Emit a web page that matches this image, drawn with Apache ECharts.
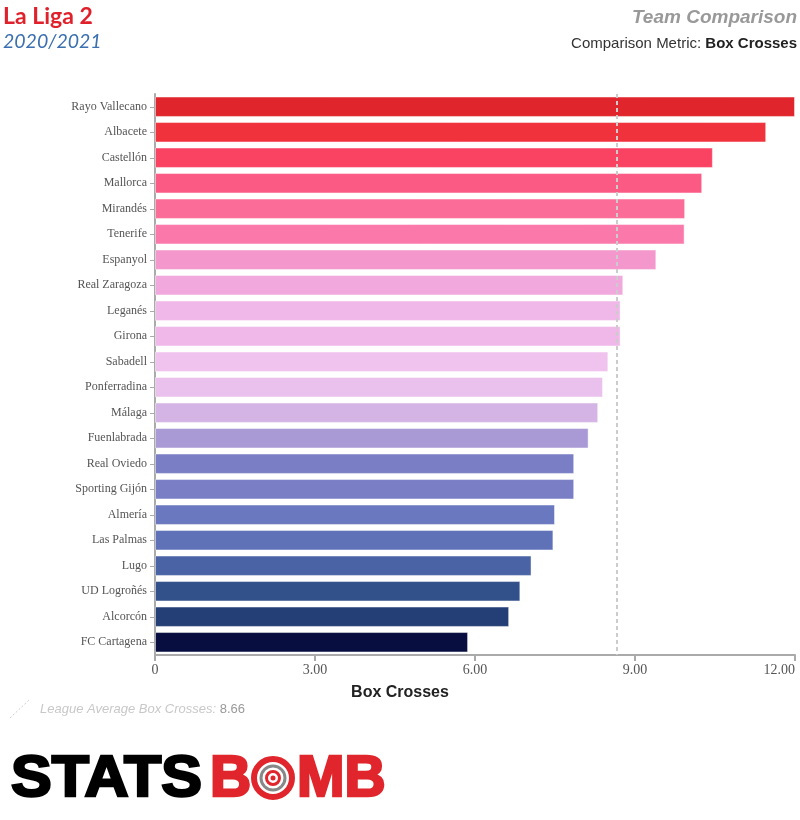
<!DOCTYPE html>
<html><head><meta charset="utf-8">
<script src="https://cdn.jsdelivr.net/npm/echarts@6/dist/echarts.min.js"></script>
<style>html,body{margin:0;padding:0;background:#fff}#c{width:800px;height:820px}</style>
</head><body><div id="c"></div>
<script>
const teams = ["Rayo Vallecano","Albacete","Castellón","Mallorca","Mirandés","Tenerife","Espanyol","Real Zaragoza","Leganés","Girona","Sabadell","Ponferradina","Málaga","Fuenlabrada","Real Oviedo","Sporting Gijón","Almería","Las Palmas","Lugo","UD Logroñés","Alcorcón","FC Cartagena"];
const values = [12.0,11.46,10.46,10.26,9.94,9.93,9.40,8.78,8.73,8.73,8.50,8.40,8.31,8.13,7.86,7.86,7.50,7.47,7.06,6.85,6.64,5.87];
const barColors = ["#e0262c","#f0323c","#fa4262","#fb5a84","#fc6c98","#fb78aa","#f497cc","#f1a8dd","#efb8e8","#efb8e8","#f0c2ee","#eac0ed","#d4b4e4","#a99ad5","#7a7ec4","#7a7ec4","#6a78c0","#5f72b8","#4a63a5","#32518a","#243f75","#080f40"];
const xTicks = [0,3,6,9,12];
const leagueAvg = 8.66;

const chart = echarts.init(document.getElementById('c'), null, {renderer:'canvas'});
const logoFont = 'Liberation Sans, Arial';
chart.setOption({
  animation:false,
  grid:{left:155,right:5,top:94,bottom:165,containLabel:false},
  xAxis:{type:'value',min:0,max:12,interval:3,
    axisLine:{show:true,lineStyle:{color:'#aaa',width:2}},
    axisTick:{show:true,length:6,lineStyle:{color:'#aaa',width:2}},
    splitLine:{show:false},
    axisLabel:{fontFamily:'Liberation Serif, Times New Roman',fontSize:14,color:'#555',margin:8,
      formatter:v=>v===0?'0':v.toFixed(2),alignMaxLabel:'right'}
  },
  yAxis:{type:'category',data:teams,inverse:true,
    axisLine:{show:true,lineStyle:{color:'#aaa',width:2}},
    axisTick:{show:true,length:5,alignWithLabel:true,lineStyle:{color:'#aaa'}},
    axisLabel:{fontFamily:'Liberation Serif, Times New Roman',fontSize:12,color:'#555',margin:8}
  },
  series:[{type:'bar',data:values.map((v,i)=>({value:v,itemStyle:{color:barColors[i]}})),
    barCategoryGap:'20%',
    itemStyle:{borderColor:'rgba(255,255,255,0.45)',borderWidth:1},
    markLine:{silent:true,symbol:['none','none'],label:{show:false},
      lineStyle:{color:'#ccc',type:[4,3],width:2},
      data:[{xAxis:leagueAvg}]},
    z:2
  }],
  graphic:[
    {type:'text',left:3,top:5,style:{text:'La Liga 2',fontFamily:'Lato, Open Sans',fontWeight:'bold',fontSize:23,fill:'#e0202a'}},
    {type:'text',left:3,top:32,style:{text:'2020/2021',fontFamily:'Lato, Open Sans',fontStyle:'italic',fontSize:19.5,fill:'#3a6fb0'}},
    {type:'text',right:3,top:8,style:{text:'Team Comparison',fontFamily:'Liberation Sans, Arial',fontWeight:'bold',fontStyle:'italic',fontSize:19,fill:'#999',align:'right'}},
    {type:'text',right:3,top:36,style:{text:'{a|Comparison Metric: }{b|Box Crosses}',align:'right',
      rich:{a:{fontFamily:'Liberation Sans, Arial',fontSize:15,fill:'#333'},b:{fontFamily:'Liberation Sans, Arial',fontSize:15,fontWeight:'bold',fill:'#222'}}}},
    {type:'text',x:400,y:685,style:{text:'Box Crosses',align:'center',fontFamily:'Liberation Sans, Arial',fontWeight:'bold',fontSize:16,fill:'#222'}},
    {type:'line',shape:{x1:10,y1:718,x2:29,y2:700},style:{stroke:'#ccc',lineWidth:1,lineDash:[2,2]}},
    {type:'text',left:40,top:703,style:{text:'{a|League Average Box Crosses: }{b|8.66}',
      rich:{a:{fontFamily:'Liberation Sans, Arial',fontStyle:'italic',fontSize:13,fill:'#c8c8c8'},b:{fontFamily:'Liberation Sans, Arial',fontSize:13,fill:'#999'}}}},
    {type:'text',x:11,y:752,scaleX:1.07,style:{text:'STATS',fontFamily:logoFont,fontWeight:900,fontSize:57,fill:'#000',stroke:'#000',lineWidth:2.5}},
    {type:'text',x:210,y:752,style:{text:'B',fontFamily:logoFont,fontWeight:900,fontSize:57,fill:'#e0262c',stroke:'#e0262c',lineWidth:2.5}},
    {type:'circle',shape:{cx:273,cy:778,r:19},style:{fill:'none',stroke:'#e0262c',lineWidth:6}},
    {type:'circle',shape:{cx:273,cy:778,r:12},style:{fill:'none',stroke:'#888',lineWidth:3}},
    {type:'circle',shape:{cx:273,cy:778,r:6.5},style:{fill:'none',stroke:'#e0262c',lineWidth:3}},
    {type:'circle',shape:{cx:273,cy:778,r:2.5},style:{fill:'#e0262c'}},
    {type:'text',x:297,y:752,style:{text:'MB',fontFamily:logoFont,fontWeight:900,fontSize:57,fill:'#e0262c',stroke:'#e0262c',lineWidth:2.5}}
  ]
});
</script></body></html>
